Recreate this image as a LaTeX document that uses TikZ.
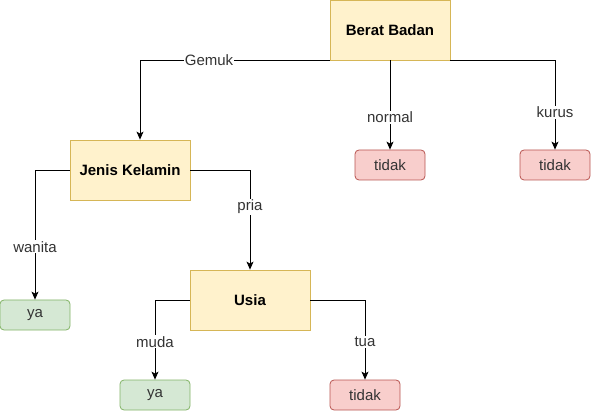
\documentclass[tikz,border=0pt]{standalone}
\usepackage{fontspec}
\setmainfont{Liberation Sans}
\usetikzlibrary{arrows.meta}
\definecolor{yfill}{HTML}{FFF2CC}
\definecolor{ydraw}{HTML}{D6B656}
\definecolor{rfill}{HTML}{F8CECC}
\definecolor{rdraw}{HTML}{B85450}
\definecolor{gfill}{HTML}{D5E8D4}
\definecolor{gdraw}{HTML}{82B366}
\definecolor{lbl}{HTML}{333333}
\begin{document}
\begin{tikzpicture}[x=1pt,y=-1pt,
  decision/.style={draw=ydraw,fill=yfill,line width=0.8pt,minimum width=120pt,minimum height=60pt,inner sep=0pt,font=\fontsize{15}{17}\selectfont\bfseries},
  noleaf/.style={draw=rdraw,fill=rfill,line width=0.8pt,rounded corners=4pt,minimum width=70pt,minimum height=30pt,inner sep=0pt,font=\fontsize{15}{17}\selectfont,text=lbl},
  yesleaf/.style={draw=gdraw,fill=gfill,line width=0.8pt,rounded corners=4pt,minimum width=70pt,minimum height=30pt,inner sep=0pt,font=\fontsize{15}{17}\selectfont,text=lbl},
  conn/.style={draw=black,line width=0.8pt,-{Stealth[length=8pt,width=7pt,inset=2pt]}},
  elabel/.style={fill=white,inner sep=1pt,font=\fontsize{15}{17}\selectfont,text=lbl}]
\useasboundingbox (0,0) rectangle (591,411);
\node[decision] (bb) at (390,30) {Berat Badan};
\node[decision] (jk) at (130,170) {Jenis Kelamin};
\node[decision] (us) at (250,300) {Usia};
\node[noleaf] (t1) at (390,165) {tidak};
\node[noleaf] (t2) at (555,165) {tidak};
\node[yesleaf] (y1) at (35,315) {ya};
\node[yesleaf] (y2) at (155,395) {ya};
\node[noleaf] (t3) at (365,395) {tidak};
\draw[conn] (bb.south west) -| node[elabel,pos=0.318] {Gemuk} ([xshift=10pt]jk.north);
\draw[conn] (bb.south) -- node[elabel,pos=0.64] {normal} (t1.north);
\draw[conn] (bb.south east) -| node[elabel,pos=0.79] {kurus} (t2.north);
\draw[conn] (jk.west) -| node[elabel,pos=0.796] {wanita} (y1.north);
\draw[conn] (jk.east) -| node[elabel,pos=0.685] {pria} (us.north);
\draw[conn] (us.west) -| node[elabel,pos=0.7625] {muda} (y2.north);
\draw[conn] (us.east) -| node[elabel,pos=0.7625] {tua} (t3.north);
\end{tikzpicture}
\end{document}
